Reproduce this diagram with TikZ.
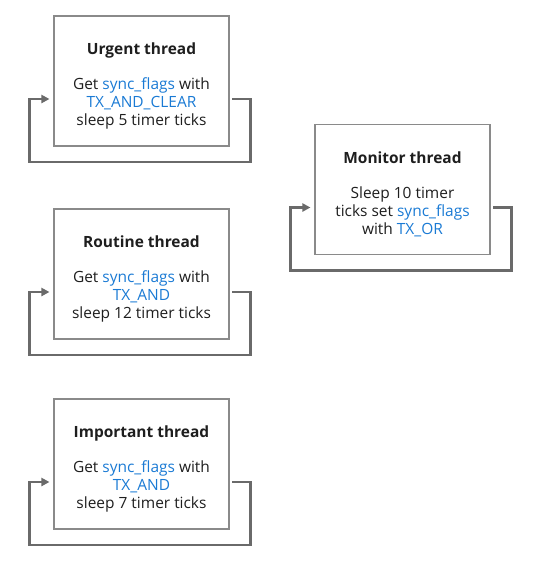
\documentclass[tikz,border=0pt]{standalone}
\usepackage{fontspec}
\setmainfont{Open Sans}
\usetikzlibrary{arrows.meta}
\definecolor{flagblue}{HTML}{1A7AD4}
\definecolor{boxgray}{HTML}{8A8A8A}
\definecolor{loopgray}{HTML}{6A6A6A}
\definecolor{txtgray}{HTML}{1E1E1E}
\newcommand{\kw}[1]{\textcolor{flagblue}{#1}}
\newcommand{\toppad}{\rule{0pt}{16pt}}
\begin{document}
\begin{tikzpicture}[x=0.75pt,y=-0.75pt,
  every node/.style={font=\fontsize{11.6pt}{13.5pt}\selectfont,text=txtgray},
  thread/.style={draw=boxgray,line width=0.8pt,minimum width=131.25pt,minimum height=97.5pt,align=center},
  loopline/.style={draw=loopgray,line width=1.8pt,-{Triangle[length=6pt,width=6pt]},shorten >=3pt,shorten <=2pt}]
\useasboundingbox (0,0) rectangle (546,569);
% thread boxes
\node[thread] (urgent) at (141.5, 81) {\toppad\textbf{Urgent thread}\\[12.5pt]Get \kw{sync\_flags} with\\\kw{TX\_AND\_CLEAR}\\sleep 5 timer ticks};
\node[thread] (routine) at (141.5, 274) {\toppad\textbf{Routine thread}\\[12.5pt]Get \kw{sync\_flags} with\\\kw{TX\_AND}\\sleep 12 timer ticks};
\node[thread] (important) at (141.5, 464) {\toppad\textbf{Important thread}\\[12.5pt]Get \kw{sync\_flags} with\\\kw{TX\_AND}\\sleep 7 timer ticks};
\node[thread] (monitor) at (402.5, 189.5) {\toppad\textbf{Monitor thread}\\[12.5pt]Sleep 10 timer\\ticks set \kw{sync\_flags}\\with \kw{TX\_OR}};
% loops
\foreach \t in {urgent,routine,important,monitor}
  \draw[loopline] ([yshift=-13.5pt]\t.east) -- ++(21,0) -- ++(0,63) -- ++(-221,0) -- ++(0,-63) -- ([yshift=-13.5pt]\t.west);
\end{tikzpicture}
\end{document}
